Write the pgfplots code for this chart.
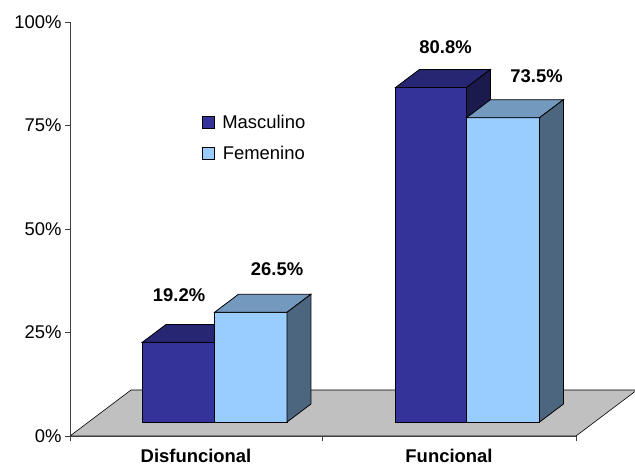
\documentclass[border=0pt]{standalone}
\usepackage{fontspec}
\setmainfont{Liberation Sans}
\usepackage{pgfplots}
\pgfplotsset{compat=1.18}
\usepackage{pgfplotstable}

\definecolor{mascF}{HTML}{333399}
\definecolor{mascT}{HTML}{262673}
\definecolor{mascS}{HTML}{1A1A4D}
\definecolor{femF}{HTML}{99CCFF}
\definecolor{femT}{HTML}{7399BF}
\definecolor{femS}{HTML}{4D6680}
\definecolor{floorgray}{HTML}{C0C0C0}

\pgfplotsset{/pgf/number format/assume math mode=true}
\newcommand{\chartfont}{\fontsize{18.5}{22}\selectfont}

% value labels: position (x, depth, value) and vertical offset
\pgfplotstableread{
x     y      z     sh
90.5  0.304  19.2  47
188.5 0.304  26.5  43
357   0.304  80.8  40
448   0.304  73.5  42
}\labeltable

\begin{document}
\begin{tikzpicture}
% ---- 3D part: floor and bars (oblique projection) ----
\begin{axis}[
  disabledatascaling, anchor=origin, at={(0,0)},
  x={(1bp,0bp)}, y={(61bp,46bp)}, z={(0bp,4.14bp)},
  xmin=0, xmax=506, ymin=0, ymax=1, zmin=0, zmax=100,
  hide axis, clip=false,
  face/.style={draw=black, line width=0.8bp, mark=none},
]
% floor
\addplot3[face, fill=floorgray, line width=0.6bp]
  coordinates {(0,0,0) (506,0,0) (506,1,0) (0,1,0)} -- cycle;

% Disfuncional - Masculino
\addplot3[face, fill=mascF] coordinates {(53.5,0.304,0) (126,0.304,0) (126,0.304,19.2) (53.5,0.304,19.2)} -- cycle;
\addplot3[face, fill=mascT] coordinates {(53.5,0.304,19.2) (126,0.304,19.2) (126,0.696,19.2) (53.5,0.696,19.2)} -- cycle;
\addplot3[face, fill=mascS] coordinates {(126,0.304,0) (126,0.696,0) (126,0.696,19.2) (126,0.304,19.2)} -- cycle;
% Disfuncional - Femenino
\addplot3[face, fill=femF] coordinates {(126,0.304,0) (198.5,0.304,0) (198.5,0.304,26.5) (126,0.304,26.5)} -- cycle;
\addplot3[face, fill=femT] coordinates {(126,0.304,26.5) (198.5,0.304,26.5) (198.5,0.696,26.5) (126,0.696,26.5)} -- cycle;
\addplot3[face, fill=femS] coordinates {(198.5,0.304,0) (198.5,0.696,0) (198.5,0.696,26.5) (198.5,0.304,26.5)} -- cycle;
% Funcional - Masculino
\addplot3[face, fill=mascF] coordinates {(307,0.304,0) (378,0.304,0) (378,0.304,80.8) (307,0.304,80.8)} -- cycle;
\addplot3[face, fill=mascT] coordinates {(307,0.304,80.8) (378,0.304,80.8) (378,0.696,80.8) (307,0.696,80.8)} -- cycle;
\addplot3[face, fill=mascS] coordinates {(378,0.304,0) (378,0.696,0) (378,0.696,80.8) (378,0.304,80.8)} -- cycle;
% Funcional - Femenino
\addplot3[face, fill=femF] coordinates {(378,0.304,0) (451,0.304,0) (451,0.304,73.5) (378,0.304,73.5)} -- cycle;
\addplot3[face, fill=femT] coordinates {(378,0.304,73.5) (451,0.304,73.5) (451,0.696,73.5) (378,0.696,73.5)} -- cycle;
\addplot3[face, fill=femS] coordinates {(451,0.304,0) (451,0.696,0) (451,0.696,73.5) (451,0.304,73.5)} -- cycle;

% value labels
\addplot3[draw=none, mark=none, point meta=explicit,
  visualization depends on={\thisrow{sh} \as \labelshift},
  nodes near coords={\pgfmathprintnumber[fixed,fixed zerofill,precision=1]{\pgfplotspointmeta}\%},
  every node near coord/.append style={anchor=center, yshift=\labelshift bp,
    font=\chartfont\bfseries, text=black, inner sep=0pt}]
  table[x=x, y=y, z=z, meta=z] {\labeltable};
\end{axis}

% ---- 2D part: axis lines, ticks, labels, legend ----
\begin{axis}[
  disabledatascaling, anchor=origin, at={(0,0)},
  x=1bp, y=4.14bp,
  xmin=0, xmax=506, ymin=0, ymax=100,
  axis x line=bottom, axis y line=left,
  axis line style={-, black!75, line width=0.8bp},
  tick style={black!75, line width=0.8bp},
  tick align=outside, major tick length=5bp,
  ytick={0,25,50,75,100},
  yticklabel={\pgfmathprintnumber{\tick}\%},
  xtick={0,252,506},
  x tick label as interval,
  xticklabels={Disfuncional,Funcional},
  tick label style={font=\chartfont, text=black},
  xticklabel style={font=\chartfont\bfseries, yshift=-5bp},
  legend style={at={(0.26,0.78)}, anchor=north west, draw=none, fill=none,
    font=\chartfont, row sep=12bp, inner sep=0pt},
  legend image code/.code={\draw[#1, draw=black, line width=0.8bp] (0bp,-6bp) rectangle (12bp,6bp); \path (18bp,0bp);},
]
\addlegendimage{fill=mascF}
\addlegendentry{Masculino}
\addlegendimage{fill=femF}
\addlegendentry{Femenino}
\end{axis}
\pgfresetboundingbox
\path (-70bp,-32bp) rectangle (565bp,436bp);
\end{tikzpicture}
\end{document}
